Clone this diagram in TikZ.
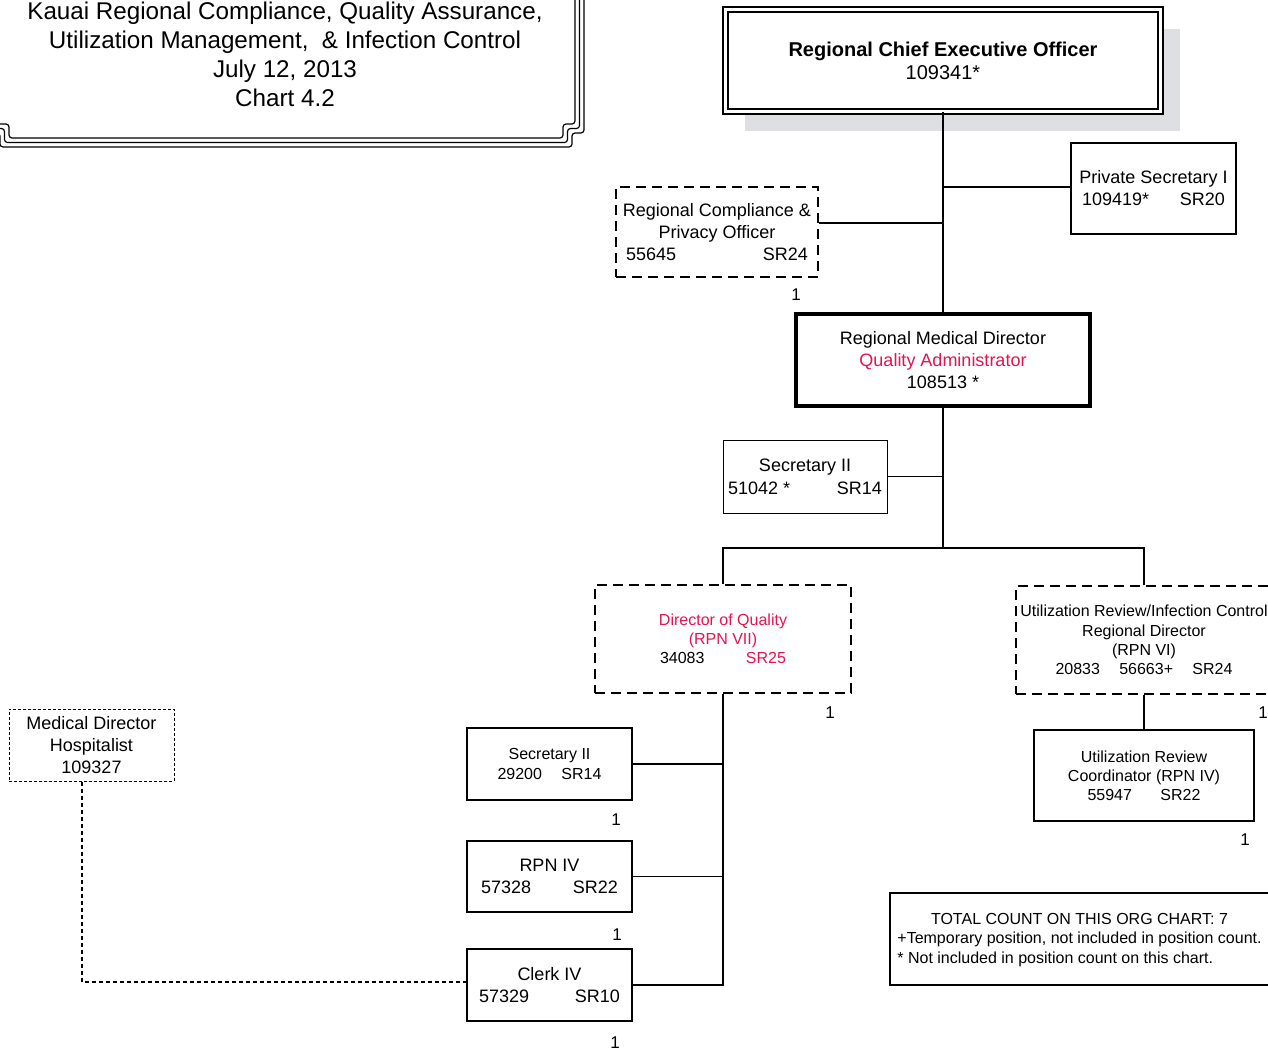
\documentclass[tikz,border=0pt]{standalone}
\usepackage{fontspec}
\setmainfont{Liberation Sans}
\usetikzlibrary{shadows,calc}
\definecolor{qred}{RGB}{228,20,80}
\definecolor{shade}{RGB}{222,223,226}
\begin{document}
\begin{tikzpicture}[x=0.5pt,y=-0.5pt,
  box/.style={draw, line width=0.65pt, inner sep=0pt, align=center, fill=white},
  f9/.style={font=\fontsize{9}{11}\selectfont},
  f8/.style={font=\fontsize{8}{9.6}\selectfont},
  dashbox/.style={box, line width=0.75pt, dash pattern=on 5pt off 3pt},
  link/.style={line width=0.75pt},
  cnt/.style={font=\fontsize{8.5}{10}\selectfont, inner sep=0pt},
  frame/.style={line width=0.6pt, rounded corners=1.5pt},
]
\useasboundingbox (0,0) rectangle (1268,1051);
\clip (0,0) rectangle (1268,1051);

% title frame
\foreach \k in {0,4.5,9} {
  \draw[frame] (575+\k,-20) -- (575+\k,124+\k) -- (563+\k,124+\k) -- (563+\k,138+\k)
     -- (9-\k,138+\k) -- (9-\k,124+\k) -- (-3-\k,124+\k) -- (-3-\k,-20);
}
\node[align=center, font=\fontsize{12.1}{14.5}\selectfont, inner sep=0pt] (title) at (285,54)
  {Kauai Regional Compliance, Quality Assurance,\\Utilization Management,\ \ \& Infection Control\\July 12, 2013\\Chart 4.2};

% boxes
\node[box, double, double distance=1.5pt, line width=0.9pt, minimum width=217.5pt, minimum height=51pt,
  drop shadow={shadow xshift=9.5pt, shadow yshift=-9.5pt, fill=shade, opacity=1},
  font=\fontsize{10}{11.5}\selectfont] (ceo) at (943,60.5)
  {\textbf{Regional Chief Executive Officer}\\109341*};

\node[box, f9, minimum width=82.5pt, minimum height=45.5pt] (ps) at (1153.5,188.5)
  {Private Secretary I\\\makebox[71.5pt]{109419*\hfill SR20}};

\node[dashbox, f9, minimum width=101pt, minimum height=45pt] (rco) at (717,232)
  {Regional Compliance \&\\Privacy Officer\\\makebox[91pt]{55645\hfill SR24}};

\node[box, f9, line width=2pt, minimum width=147pt, minimum height=46pt] (rmd) at (943,360)
  {Regional Medical Director\\\textcolor{qred}{Quality Administrator}\\108513 *};

\node[box, font=\fontsize{9}{11.5}\selectfont, line width=0.5pt, minimum width=82pt, minimum height=36.5pt] (sec1) at (805,476.5)
  {Secretary II\\\makebox[77pt]{51042 *\hfill SR14}};

\node[dashbox, f8, minimum width=128pt, minimum height=54pt] (doq) at (723,639)
  {\textcolor{qred}{Director of Quality}\\\textcolor{qred}{(RPN VII)}\\\makebox[63pt]{34083\hfill\textcolor{qred}{SR25}}};

\node[dashbox, f8, minimum width=128pt, minimum height=54pt] (urd) at (1144,640)
  {Utilization Review/Infection Control\\Regional Director\\(RPN VI)\\\makebox[88.5pt]{20833\hfill 56663+\hfill SR24}};

\node[box, f8, minimum width=110pt, minimum height=45.5pt] (urc) at (1144,775.5)
  {Utilization Review\\Coordinator (RPN IV)\\\makebox[56.5pt]{55947\hfill SR22}};

\node[box, font=\fontsize{8}{10}\selectfont, minimum width=82.5pt, minimum height=36pt] (sec2) at (549.5,764)
  {Secretary II\\\makebox[52pt]{29200\hfill SR14}};

\node[box, f9, minimum width=82.5pt, minimum height=35.5pt] (rpn) at (549.5,876.5)
  {RPN IV\\\makebox[68.5pt]{57328\hfill SR22}};

\node[box, f9, minimum width=82.5pt, minimum height=36pt] (clerk) at (549.5,985)
  {Clerk IV\\\makebox[70.5pt]{57329\hfill SR10}};

\node[box, f9, line width=0.5pt, dash pattern=on 1.5pt off 1pt, minimum width=82.5pt, minimum height=36pt] (mdh) at (91.5,745)
  {Medical Director\\Hospitalist\\109327};

\node[box, line width=0.75pt, minimum width=200pt, minimum height=46pt] (total) at (1090,939) {};
\node[anchor=west, inner sep=0pt, font=\fontsize{8}{9.75}\selectfont] (totaltxt) at (897,940)
  {\begin{tabular}{@{}l@{}}\multicolumn{1}{@{}c@{}}{TOTAL COUNT ON THIS ORG CHART: 7}\\+Temporary position, not included in position count.\\{}* Not included in position count on this chart.\end{tabular}};

% connectors
\coordinate (bus) at (943,548);
\draw[link] (ceo.south) -- (rmd.north);
\draw[link] ([yshift=0.75pt]ps.west) -- ([yshift=0.75pt]ps.west -| ceo.south);
\draw[link] ([yshift=4.5pt]rco.east) -- ([yshift=4.5pt]rco.east -| ceo.south);
\draw[link] (sec1.east) -- (sec1.east -| rmd.south);
\draw[link] (rmd.south) -- (bus);
\draw[link] (doq.north) |- (bus);
\draw[link] (urd.north) |- (bus);
\draw[link] (urd.south) -- (urc.north);
\draw[link] (doq.south) |- (clerk.east);
\draw[link] (sec2.east) -- (sec2.east -| doq.south);
\draw[link] (rpn.east) -- (rpn.east -| doq.south);
\draw[line width=0.6pt, dash pattern=on 2pt off 1.5pt] ([xshift=-4.75pt]mdh.south) |- ([yshift=1.5pt]clerk.west);

% counts
\node[cnt] (c1) at (796,295) {1};
\node[cnt] (c2) at (830,713) {1};
\node[cnt] (c3) at (1263,713) {1};
\node[cnt] (c4) at (1245,840) {1};
\node[cnt] (c5) at (616,820) {1};
\node[cnt] (c6) at (617,935) {1};
\node[cnt] (c7) at (615,1043) {1};
\end{tikzpicture}
\end{document}
